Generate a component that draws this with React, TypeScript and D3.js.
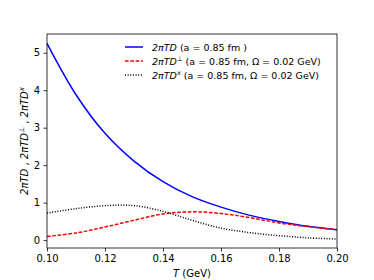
import * as d3 from "d3";
import React, { useRef, useEffect } from "react";

const temps = [0.10, 0.11, 0.12, 0.13, 0.14, 0.15, 0.16, 0.17, 0.18, 0.19, 0.20];
const dBlue = [5.25, 3.88, 2.85, 2.11, 1.56, 1.16, 0.88, 0.66, 0.50, 0.37, 0.28];
const dPerp = [0.10, 0.19, 0.35, 0.53, 0.70, 0.755, 0.71, 0.60, 0.46, 0.36, 0.28];
const dCross = [0.72, 0.84, 0.92, 0.92, 0.77, 0.53, 0.32, 0.20, 0.12, 0.06, 0.03];
const xTicks = [0.1, 0.12, 0.14, 0.16, 0.18, 0.2];
const yTicks = [0, 1, 2, 3, 4, 5];

const margin = { top: 34, right: 37, bottom: 32, left: 47 };
const W = 374;
const H = 280;

const series = [
  { vals: dBlue, color: "#0000ff", dash: "none", sup: "", rest: " (a = 0.85 fm )" },
  { vals: dPerp, color: "#ff0000", dash: "3.7,1.6", sup: "⊥", rest: " (a = 0.85 fm, Ω = 0.02 GeV)" },
  { vals: dCross, color: "#000000", dash: "1,1.65", sup: "x", rest: " (a = 0.85 fm, Ω = 0.02 GeV)" },
];

const drawChart = (ref: any) => {
  const svg = d3.select(ref.current);
  svg.selectAll("*").remove();
  const w = W - margin.left - margin.right;
  const h = H - margin.top - margin.bottom;
  const g = svg.append("g").attr("transform", "translate(" + margin.left + "," + margin.top + ")");
  const font = "DejaVu Sans, sans-serif";

  const x = d3.scaleLinear().domain([0.1, 0.2]).range([0, w]);
  const y = d3.scaleLinear().domain([-0.21, 5.5]).range([h, 0]);

  // curves
  series.forEach((s) => {
    const line = d3
      .line<number>()
      .x((d, i) => x(temps[i]))
      .y((d) => y(d))
      .curve(d3.curveCatmullRom.alpha(0.5));
    g.append("path")
      .datum(s.vals)
      .attr("d", line)
      .attr("fill", "none")
      .attr("stroke", s.color)
      .attr("stroke-width", 1.5)
      .attr("stroke-dasharray", s.dash);
  });

  // axes
  const xAxis = g
    .append("g")
    .attr("transform", "translate(0," + h + ")")
    .call(d3.axisBottom(x).tickValues(xTicks).tickFormat(d3.format(".2f")).tickSizeOuter(0).tickSize(3.5).tickPadding(3.5));
  const yAxis = g.append("g").call(d3.axisLeft(y).tickValues(yTicks).tickFormat(d3.format("d")).tickSizeOuter(0).tickSize(3.5).tickPadding(3.5));
  [xAxis, yAxis].forEach((a) => {
    a.select(".domain").remove();
    a.selectAll("line").attr("stroke", "#000").attr("stroke-width", 0.8);
    a.selectAll("text").attr("font-family", font).attr("font-size", 10).attr("fill", "#000");
  });

  // frame
  g.append("rect")
    .attr("width", w)
    .attr("height", h)
    .attr("fill", "none")
    .attr("stroke", "#000")
    .attr("stroke-width", 0.8);

  // x label
  const xl = g
    .append("text")
    .attr("x", w / 2)
    .attr("y", h + 29)
    .attr("text-anchor", "middle")
    .attr("font-family", font)
    .attr("font-size", 10);
  xl.append("tspan").attr("font-style", "italic").text("T");
  xl.append("tspan").text(" (GeV)");

  // y label
  const yl = g
    .append("text")
    .attr("transform", "translate(-19," + h / 2 + ") rotate(-90)")
    .attr("text-anchor", "middle")
    .attr("font-family", font)
    .attr("font-size", 10);
  const parts = ["", "⊥", "x"];
  parts.forEach((p, i) => {
    yl.append("tspan").attr("font-style", "italic").text("2πTD");
    if (p) {
      yl.append("tspan")
        .attr("font-size", 7)
        .attr("font-style", p === "x" ? "italic" : "normal")
        .attr("dy", -4)
        .text(p);
      yl.append("tspan").attr("dy", 4).text(i < 2 ? " , " : "");
    } else {
      yl.append("tspan").text(" , ");
    }
  });

  // legend
  series.forEach((s, i) => {
    const ly = 13 + i * 14;
    g.append("line")
      .attr("x1", 78)
      .attr("x2", 96)
      .attr("y1", ly)
      .attr("y2", ly)
      .attr("stroke", s.color)
      .attr("stroke-width", 1.5)
      .attr("stroke-dasharray", s.dash);
    const t = g
      .append("text")
      .attr("x", 105)
      .attr("y", ly + 3.5)
      .attr("font-family", font)
      .attr("font-size", 9.5);
    t.append("tspan").attr("font-style", "italic").text("2πTD");
    if (s.sup) {
      t.append("tspan")
        .attr("font-size", 6.5)
        .attr("font-style", s.sup === "x" ? "italic" : "normal")
        .attr("dy", -4)
        .text(s.sup);
      t.append("tspan").attr("dy", 4).text(s.rest);
    } else {
      t.append("tspan").text(s.rest);
    }
  });
};

function App() {
  const ref = useRef<any>(null);
  useEffect(() => {
    drawChart(ref);
  }, []);
  return (
    <div style={{ position: "absolute", left: 0, top: 0 }}>
      <svg ref={ref} width={W} height={H} style={{ display: "block", background: "#fff" }}></svg>
    </div>
  );
}

export default App;
